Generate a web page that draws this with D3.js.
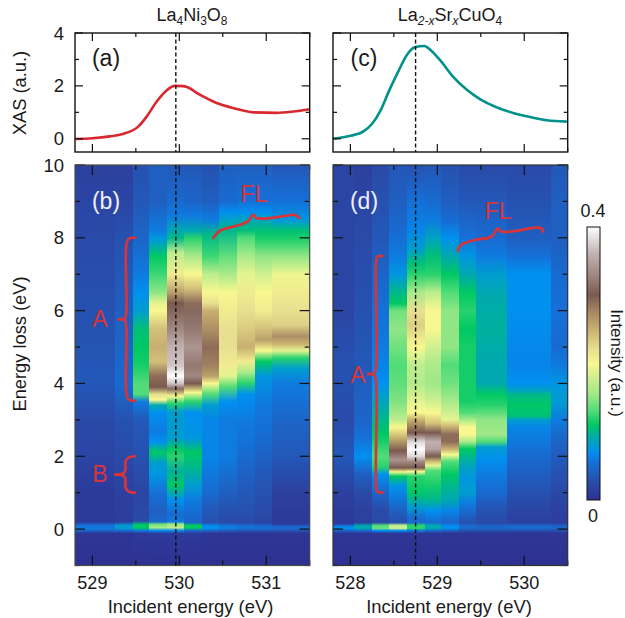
<!DOCTYPE html>
<html><head><meta charset="utf-8">
<script src="https://cdn.jsdelivr.net/npm/d3@7/dist/d3.min.js"></script>
<style>html,body{margin:0;padding:0;background:#fff}svg{display:block}text{font-family:"Liberation Sans",Arial,sans-serif;fill:#1a1a1a}</style>
</head><body><svg id="c" width="625" height="618"></svg>
<script>
// XAS curves [incident energy eV, XAS a.u.]
const xasA = [[528.81,-0.01],[529,0.02],[529.2,0.09],[529.35,0.18],[529.53,0.47],[529.62,0.82],[529.74,1.41],[529.85,1.82],[529.95,2],[530.05,1.99],[530.24,1.66],[530.43,1.35],[530.62,1.16],[530.85,1],[531.12,0.98],[531.31,1.03],[531.5,1.12]];
const xasC = [[527.8,0],[528,0.11],[528.15,0.28],[528.25,0.57],[528.34,1.03],[528.45,1.85],[528.55,2.54],[528.65,3.17],[528.74,3.46],[528.85,3.51],[528.93,3.33],[529.03,2.98],[529.18,2.35],[529.34,1.85],[529.49,1.5],[529.68,1.19],[529.88,0.97],[530.07,0.82],[530.26,0.7],[530.49,0.65]];
// RIXS columns: edges in incident energy, then [energy loss eV, intensity x100 a.u.]
const edgesB = [528.8,529.26,529.47,529.65,529.86,530.05,530.26,530.46,530.66,530.87,531.07,531.5];
const edgesD = [527.8,528.04,528.245,528.44,528.65,528.855,529.04,529.25,529.44,529.8,530.31,530.5];
const mapB = [
[[10,1.5],[9,2],[8,2.5],[6,3],[4,3.5],[3,2.5],[2,2],[1,1],[.2,.8],[.1,5.5],[.02,6],[-.04,4.5],[-.12,.5],[-1,0]],
[[10,1.5],[9,2],[8,3],[6,4],[5,4.5],[4,5],[3.5,4],[3,3],[2,2.5],[1,1.5],[.2,1.2],[.1,8],[.02,8],[-.04,5],[-.12,.5],[-1,0]],
[[10,3],[9,3.5],[8,4.5],[7,6],[6.5,7],[6,8],[5.5,10.5],[5,11],[4.5,11.5],[4,13],[3.7,13],[3.5,6],[3,3.5],[2,3],[1,2],[.22,2.5],[.12,11],[.03,11],[-.04,6],[-.12,.8],[-1,0]],
[[10,4],[9,4],[8.2,6],[8,7.5],[7.8,9],[7.5,11],[7,12.5],[6.5,15],[6.2,19],[6,20],[5.5,24],[5,25],[4.6,24],[4.2,29],[3.9,30],[3.7,22],[3.55,20],[3.4,9],[3.2,7],[2.7,6],[2.4,7],[2.1,11],[1.8,8],[1.5,7.5],[1,5.5],[.5,4],[.2,5],[.13,14],[.04,16],[-.04,7],[-.12,1],[-1,0]],
[[10,3.5],[9,5],[8.6,6],[8.2,9],[8,10],[7.6,17],[7,21],[6.5,26],[6.2,30],[5.5,33],[5,36],[4.5,37],[4.2,40],[4,37],[3.85,31],[3.65,20],[3.45,12],[3.2,8],[2.5,8],[2.2,11],[2,12],[1.6,9.5],[1.2,11],[.8,7],[.4,5],[.2,6],[.14,15],[.04,17],[-.04,7],[-.12,1],[-1,0]],
[[10,3.5],[9,4.5],[8.6,6],[8.2,9],[8,12],[7.5,16],[7,20],[6.6,24],[6.2,29],[6,31],[5.5,32],[5,34],[4.5,32],[4.2,33],[4,30],[3.75,20],[3.5,12],[3.2,7],[2.5,7.5],[2.1,11],[1.7,10],[1.2,8],[.8,6],[.4,5],[.18,4.5],[.1,11],[.03,11],[-.04,5],[-.12,.8],[-1,0]],
[[10,3],[9,4],[8.5,6],[8.1,10],[7.5,12.5],[7,17],[6.5,20],[6.2,22],[6,25],[5.5,27],[5,29],[4.5,28],[4.2,26],[4,20],[3.7,13],[3.4,8],[3,6.5],[2,6.5],[1,5],[.5,3.5],[.18,3],[.08,7],[.02,7],[-.05,4],[-.12,.5],[-1,0]],
[[10,4],[9,5],[8.7,7],[8.2,10],[7.5,13.5],[7,16],[6.5,20],[6,21],[5.5,22],[5,22],[4.5,21],[4.2,19],[3.9,13],[3.5,7],[3,6],[2,6],[1,4],[.5,3],[.18,2.5],[.08,6],[.02,6],[-.05,3.5],[-.12,.5],[-1,0]],
[[10,4],[9,5.5],[8.7,7],[8.2,10.5],[8,13],[7.5,16],[7,19],[6.5,21],[6,22],[5.6,23],[5,25],[4.6,21],[4.3,16],[4,12],[3.7,7],[3,6],[2,5],[1,3.5],[.5,3],[.18,2.5],[.08,5.5],[.02,5.5],[-.05,3],[-.12,.5],[-1,0]],
[[10,4],[9,5.5],[8.7,7],[8.2,10.5],[8,11.5],[7.5,15],[7,18],[6.5,20],[6,21],[5.5,24],[5.2,26],[4.9,20],[4.6,11],[4.2,7.5],[3.5,6],[2.5,5],[1.5,3.5],[.5,2.5],[.18,2],[.08,5],[.02,5.5],[-.05,3],[-.12,.5],[-1,0]],
[[10,3.5],[9,5.5],[8.5,7.5],[8.2,10.5],[8,11.5],[7.5,15],[7,19.5],[6.5,21],[6,22],[5.6,23],[5.3,27],[5.1,25],[4.9,19],[4.7,12],[4.4,8],[4,6],[3,4.5],[2,3.5],[1,1.5],[.5,1],[.15,1],[.07,4.5],[.02,5],[-.05,3],[-.12,.5],[-1,0]]
];
const mapD = [
[[10,2],[8,2],[6,2],[4.5,3],[4,3],[3,2.5],[2,3.5],[1,1.5],[.5,1],[.15,1],[.07,6.5],[.02,7],[-.04,4.5],[-.12,.5],[-1,0]],
[[10,1.5],[8,2.5],[6,3],[4.5,3.5],[4,4],[3,4.5],[2.5,5.5],[2,7],[1.5,4],[1,2.5],[.5,1.5],[.18,1.5],[.09,9],[.02,9],[-.04,5],[-.12,.5],[-1,0]],
[[10,2.5],[8,3.5],[7,4.5],[6,5.5],[5,6],[4.4,6.5],[4,7],[3,10],[2.6,11],[2,13],[1.7,12],[1.5,7],[1,4.5],[.5,2.5],[.18,2.5],[.1,13],[.02,14],[-.04,7],[-.12,.5],[-1,0]],
[[10,3.5],[9,4],[8.2,5],[7.5,6],[7,7.5],[6.5,10],[6.2,11],[6,14],[5.5,15],[5,14],[4.5,13],[4,13.5],[3.5,14.5],[3,17],[2.8,20],[2.5,25],[2.15,30],[1.9,34],[1.68,30],[1.57,20],[1.45,11],[1.2,7.5],[1,6.5],[.5,4],[.18,3],[.1,17],[.02,18],[-.04,7],[-.12,.5],[-1,0]],
[[10,3],[9,5.5],[8.2,6.5],[7.7,8],[7.3,10.5],[7,12],[6.5,16],[6,22],[5.6,23],[5,20],[4.5,17],[4,16.5],[3.5,19],[3.2,20],[3,25],[2.65,30],[2.4,38],[2.2,40],[2,38],[1.85,33],[1.68,30],[1.58,20],[1.45,12],[1,11],[.6,8],[.3,5],[.18,5],[.1,12],[.02,12],[-.04,6],[-.12,.5],[-1,0]],
[[10,3.5],[9,5],[8.5,6],[8,8.5],[7.5,10.5],[7,12],[6.5,17],[6,20],[5.5,20],[5,18],[4.5,16],[4,15.5],[3.5,18],[3.2,20],[2.9,24],[2.65,30],[2.4,36],[2.2,35],[2,30],[1.85,24],[1.75,19],[1.6,13],[1.2,11.5],[.8,10],[.5,7],[.18,5],[.1,9],[.02,9],[-.04,5],[-.12,.5],[-1,0]],
[[10,3],[9,4],[8.5,5],[8,7],[7.5,9],[7,11],[6.5,13],[6,15],[5,15],[4.5,13],[4,14],[3.5,16],[3,19],[2.85,24],[2.6,29],[2.4,29],[2.2,25],[2.05,20],[1.85,13],[1.5,11],[1.2,10],[.8,9],[.5,6.5],[.18,4.5],[.08,7],[.02,7],[-.04,4],[-.12,.5],[-1,0]],
[[10,2.5],[9,3.5],[8,5.5],[7.5,7.5],[7,9],[6.5,11],[6,12],[5.5,11],[5,11.5],[4,11.5],[3.5,11.5],[3.2,13],[3,16],[2.8,20],[2.6,20],[2.4,16],[2.2,11],[2,10],[1.7,8.5],[1.4,7.5],[1,8],[.7,6],[.18,3],[.08,5],[.02,5],[-.04,3],[-.12,.5],[-1,0]],
[[10,2.5],[9,3.5],[8,5],[7.5,6],[7,8],[6.5,9],[5.5,9.5],[4.5,9],[4,9],[3.7,11],[3.4,12],[3,15],[2.6,15.5],[2.4,13],[2.25,8],[1.9,7],[1.5,6],[1,5],[.5,3],[.18,2.5],[.08,4.5],[.02,4.5],[-.04,3],[-.12,.5],[-1,0]],
[[10,2.5],[9,3],[8,4],[7.5,5.5],[7,7],[6,7],[4.5,6.5],[4,7],[3.8,8.5],[3.7,10],[3.4,11],[3.1,10.5],[3,8],[2.8,6.5],[2,5],[1,3],[.5,2],[.18,1.5],[.08,5],[.02,5],[-.04,3],[-.12,.5],[-1,0]],
[[10,3.5],[9,4],[8,4],[7,5],[6,5.5],[5,5],[4.5,6],[4,7.5],[3.5,8],[3,6],[2.5,4.5],[1.5,3],[.5,1.5],[.18,1.2],[.08,4.5],[.02,4.5],[-.04,3],[-.12,.5],[-1,0]]
];
// Colour table: intensity x100 -> colour
const cmapValues = [0,2.5,4,5.5,7,9,11,13,15.5,18,20,22,25,28,30,33,36,40];
const cmapColors = ["#2e3192","#2a4aa8","#1f5fc0","#1570d8","#0090f0","#00a8b0","#00c864","#50dc78","#a0e888","#d0f090","#f8f890","#e8e090","#c8b070","#a08060","#7a5a50","#a08880","#c0b0b0","#ffffff"];
// Annotations [energy, loss]
const braceAb = [[529.49,8],[529.42,7.98],[529.39,7.8],[529.39,5.95],[529.37,5.78],[529.3,5.76],[529.37,5.74],[529.39,5.55],[529.39,3.75],[529.42,3.55],[529.49,3.52]];
const braceBb = [[529.49,2],[529.42,1.97],[529.38,1.85],[529.38,1.62],[529.35,1.52],[529.26,1.5],[529.35,1.48],[529.38,1.38],[529.38,1.15],[529.42,1.03],[529.49,1]];
const braceFb = [[530.39,7.99],[530.47,8.2],[530.66,8.33],[530.79,8.45],[530.85,8.63],[530.89,8.54],[531.04,8.54],[531.24,8.61],[531.33,8.63],[531.38,8.54]];
const braceAd = [[528.37,7.5],[528.31,7.48],[528.295,7.3],[528.295,4.45],[528.27,4.28],[528.2,4.26],[528.27,4.24],[528.295,4.05],[528.295,1.2],[528.31,1.03],[528.37,1]];
const braceFd = [[529.236,7.64],[529.27,7.8],[529.43,7.94],[529.62,8.03],[529.7,8.26],[529.735,8.17],[529.93,8.2],[530.12,8.28],[530.2,8.26],[530.215,8.17]];
const tickXA = [529,530,531], tickXC = [528,529,530];
const minorXA = [529.5,530.5,531.5], minorXC = [528.5,529.5,530.5];
const tickYTop = [0,2,4], minorYTop = [1,3];
const tickYMap = [0,2,4,6,8,10], minorYMap = [-1,1,3,5,7,9];

const svg = d3.select("#c"), defs = svg.append("defs");
const color = d3.scaleLinear().domain(cmapValues).range(cmapColors).clamp(true);
const yTop = d3.scaleLinear().domain([-0.5,4]).range([152,33]);
const yMap = d3.scaleLinear().domain([-1,10]).range([565.5,165]);
const xA = d3.scaleLinear().domain([528.8,531.5]).range([75,309.7]);
const xC = d3.scaleLinear().domain([527.8,530.5]).range([333,567.7]);
const RED = "#d8343a";

function heat(x, edges, cols, id){
  cols.forEach((col,i)=>{
    const g = defs.append("linearGradient").attr("id",id+i).attr("gradientUnits","userSpaceOnUse")
      .attr("x1",0).attr("x2",0).attr("y1",yMap(10)).attr("y2",yMap(-1));
    col.forEach(([l,v])=>g.append("stop").attr("offset",(yMap(l)-yMap(10))/(yMap(-1)-yMap(10))).attr("stop-color",color(v)));
    const x0=Math.round(x(edges[i])), x1=Math.round(x(edges[i+1]));
    svg.append("rect").attr("x",x0).attr("width",x1-x0)
      .attr("y",yMap(10)).attr("height",yMap(-1)-yMap(10)).attr("fill",`url(#${id}${i})`).attr("shape-rendering","crispEdges");
  });
}
function frame(x,y,major,minor,mx,mnx,mj,mn,stroke,sw){
  const [x0,x1]=x.range(), [y1,y0]=y.range();
  const g=svg.append("g").attr("stroke","#111").attr("stroke-width",1.2);
  const tick=(a,b,c,d)=>g.append("line").attr("x1",a).attr("x2",b).attr("y1",c).attr("y2",d);
  major.forEach(v=>{tick(x0,x0+mj,y(v),y(v));tick(x1-mj,x1,y(v),y(v));});
  minor.forEach(v=>{tick(x0,x0+mn,y(v),y(v));tick(x1-mn,x1,y(v),y(v));});
  mx.forEach(v=>{tick(x(v),x(v),y0,y0+mj);tick(x(v),x(v),y1-mj,y1);});
  mnx.forEach(v=>{tick(x(v),x(v),y0,y0+mn);tick(x(v),x(v),y1-mn,y1);});
  svg.append("rect").attr("x",x0).attr("y",y0).attr("width",x1-x0).attr("height",y1-y0)
    .attr("fill","none").attr("stroke",stroke).attr("stroke-width",sw);
}
function txt(x,y,s,size,anchor,fill,rot){
  const t=svg.append("text").attr("x",x).attr("y",y).attr("font-size",size).attr("text-anchor",anchor||"middle").attr("dominant-baseline","central").text(s);
  if(fill) t.style("fill",fill);
  if(rot!==undefined) t.attr("transform",`rotate(${rot} ${x} ${y})`);
  return t;
}
function dash(x,e,y){
  svg.append("line").attr("x1",x(e)).attr("x2",x(e)).attr("y1",y.range()[1]).attr("y2",y.range()[0])
    .attr("stroke","#111").attr("stroke-width",1.4).attr("stroke-dasharray","4 2.5");
}
function curve(x,data,c){
  svg.append("path").datum(data).attr("fill","none").attr("stroke",c).attr("stroke-width",2.6)
    .attr("d",d3.line().x(d=>x(d[0])).y(d=>yTop(d[1])).curve(d3.curveMonotoneX));
}
function brace(x,data){
  svg.append("path").datum(data).attr("fill","none").attr("stroke",RED).attr("stroke-width",2.7).attr("stroke-linecap","round")
    .attr("d",d3.line().x(d=>x(d[0])).y(d=>yMap(d[1])).curve(d3.curveCatmullRom.alpha(0.5)));
}

heat(xA,edgesB,mapB,"b"); heat(xC,edgesD,mapD,"d");
frame(xA,yMap,tickYMap,minorYMap,tickXA,minorXA,10,5,"#4a4a4a",1.2);
frame(xC,yMap,tickYMap,minorYMap,tickXC,minorXC,10,5,"#333",1.2);
curve(xA,xasA,"#d9282f"); curve(xC,xasC,"#00928a");
frame(xA,yTop,tickYTop,minorYTop,tickXA,minorXA,8,4,"#111",1.4);
frame(xC,yTop,tickYTop,minorYTop,tickXC,minorXC,8,4,"#111",1.4);
dash(xA,529.96,yTop); dash(xC,528.75,yTop); dash(xA,529.96,yMap); dash(xC,528.75,yMap);
brace(xA,braceAb); brace(xA,braceBb); brace(xA,braceFb); brace(xC,braceAd); brace(xC,braceFd);

tickYTop.forEach(v=>txt(64,yTop(v),v,18.5,"end"));
tickYMap.forEach(v=>txt(64,yMap(v),v,18.5,"end"));
tickXA.forEach(v=>txt(xA(v),583,v,18));
tickXC.forEach(v=>txt(xC(v),583,v,18));
txt(190.5,606.5,"Incident energy (eV)",18.4); txt(449,606.5,"Incident energy (eV)",18.4);
txt(19,93,"XAS (a.u.)",18.3,"middle",null,-90);
txt(19,344,"Energy loss (eV)",18.3,"middle",null,-90);

function title(x,parts){
  const t=svg.append("text").attr("x",x).attr("y",21).attr("font-size",18).attr("text-anchor","middle");
  let low=false;
  parts.forEach(([s,sub,it])=>{
    const p=t.append("tspan").text(s);
    p.attr("font-size",sub?12:18).attr("dy",(sub?4:0)-(low?4:0));
    low=!!sub;
    if(it) p.attr("font-style","italic");
  });
}
title(192,[["La"],["4",1],["Ni"],["3",1],["O"],["8",1]]);
title(450,[["La"],["2-",1,1],["x",1,1],["Sr"],["x",1,1],["CuO"],["4",1]]);

txt(106,58,"(a)",23); txt(364,58,"(c)",23);
txt(106,201,"(b)",23,"middle","#f0f0fa"); txt(364,201,"(d)",23,"middle","#f0f0fa");
txt(100,319,"A",23,"middle",RED); txt(100,474,"B",23,"middle",RED);
txt(254,193.5,"FL",23,"middle",RED); txt(498,211,"FL",23,"middle",RED); txt(358,375,"A",23,"middle",RED);

// colour bar
const yBar = d3.scaleLinear().domain([0,40]).range([500,227]);
const bg = defs.append("linearGradient").attr("id","bar").attr("x1",0).attr("x2",0).attr("y1",1).attr("y2",0);
cmapValues.forEach((v,i)=>bg.append("stop").attr("offset",v/40).attr("stop-color",cmapColors[i]));
svg.append("rect").attr("x",587).attr("width",13).attr("y",yBar(40)).attr("height",yBar(0)-yBar(40)).attr("fill","url(#bar)").attr("stroke","#111").attr("stroke-width",1);
txt(593,211,"0.4",18); txt(593,516,"0",18);
txt(616,363,"Intensity (a.u.)",17,"middle",null,90);
</script></body></html>
